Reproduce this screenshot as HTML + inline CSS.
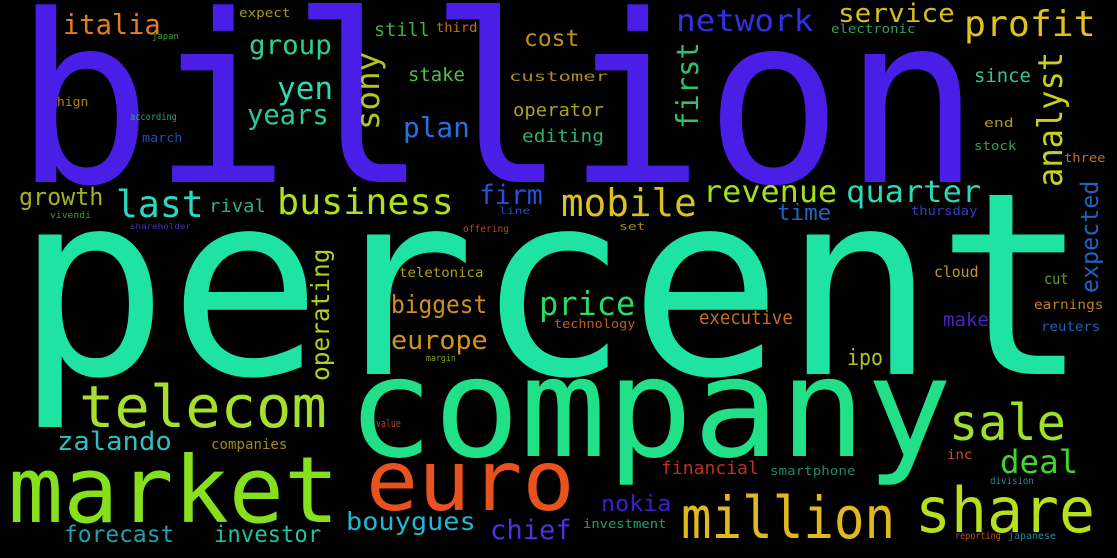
<!DOCTYPE html>
<html><head><meta charset="utf-8">
<style>
html,body{margin:0;padding:0;background:#000;}
#cloud{position:relative;width:1117px;height:558px;overflow:hidden;background:#000;}
#cloud span{position:absolute;white-space:nowrap;line-height:1;font-family:"DejaVu Sans Mono","Liberation Mono",monospace;}
</style></head>
<body>
<div id="cloud"></div>
<script>
// horizontal words: text, glyph left x, glyph right x, baseline y, font size, colour
const words = [
["billion",25,969,183,234,"#4a1ee6"],
["percent",28,1077,375,255,"#1ee3a3"],
["company",354,945,457,138,"#22e088"],
["market",13,335,523,92,"#86e01e"],
["euro",370,570,510,84,"#e8521e"],
["telecom",82,324,427,58,"#a6e02c"],
["million",684,893,538,58,"#e2b81e"],
["share",918,1092,532,62,"#b6e01e"],
["sale",951,1063,440,50,"#9ee02a"],
["mobile",563,695,216,38,"#d8c41e"],
["business",279,452,215,36,"#aee01e"],
["last",118,202,217,37,"#2ed8c0"],
["profit",966,1094,37,36,"#e0c21e"],
["network",678,812,32,30,"#3230e0"],
["italia",64,159,35,28,"#e0801e"],
["service",839,953,23,26,"#d4c01e"],
["group",250,330,55,27,"#2ed08e"],
["yen",279,332,100,31,"#2ed8b2"],
["years",248,327,125,28,"#2ec8a0"],
["revenue",705,836,203,30,"#a4e01e"],
["quarter",848,980,203,30,"#2ed8b4"],
["price",541,634,315,33,"#2ed866"],
["biggest",392,486,313,25,"#d0901e"],
["europe",392,486,350,26,"#d0941e"],
["firm",480,541,205,27,"#2452e0"],
["deal",1002,1077,473,32,"#42d430"],
["zalando",58,170,451,26,"#2cc0c0"],
["growth",20,102,205,24,"#a4b01e"],
["plan",404,468,138,28,"#2472e0"],
["stake",409,464,82,19,"#50c040"],
["still",375,429,37,19,"#40b040"],
["cost",525,578,47,23,"#c0901e"],
["operator",514,603,117,18,"#a8a41e"],
["editing",523,603,143,18,"#2eb070"],
["customer",510,607,82,13,"#b08a1e"],
["chief",491,570,540,27,"#5030e0"],
["bouygues",347,474,530,25,"#20b8d0"],
["investor",215,320,543,23,"#22c0a2"],
["forecast",65,173,543,23,"#20a0b0"],
["nokia",602,670,513,22,"#3a20d0"],
["ipo",848,882,367,22,"#b0c41e"],
["executive",700,792,325,19,"#c0701e"],
["make",944,988,327,19,"#4a22c4"],
["financial",662,758,475,18,"#c0301e"],
["rival",210,265,213,18,"#2eb080"],
["time",778,830,222,22,"#2062c0"],
["since",975,1030,83,19,"#2ec890"],
["technology",555,635,328,12,"#c05a1e"],
["teletonica",400,483,278,13,"#b0a01e"],
["companies",212,287,450,14,"#a08a1e"],
["smartphone",771,855,475,12,"#208a60"],
["investment",584,666,528,12,"#20a070"],
["cloud",935,978,278,15,"#c09a1e"],
["cut",1045,1068,285,15,"#60a020"],
["earnings",1035,1103,310,13,"#c0801e"],
["reuters",1042,1100,332,13,"#2060b0"],
["electronic",832,915,33,12,"#30a060"],
["third",437,477,33,13,"#c0701e"],
["expect",240,290,17,12,"#a09a1e"],
["thursday",912,977,215,12,"#3040c0"],
["end",985,1013,127,12,"#a0a020"],
["stock",975,1016,150,12,"#30a060"],
["three",1065,1105,162,12,"#c0701e"],
["offering",463,508,233,10,"#c04020"],
["line",500,530,215,10,"#2050c0"],
["set",620,645,230,11,"#a08a1e"],
["hign",58,88,106,12,"#b0801e"],
["march",143,182,142,12,"#2050b0"],
["according",130,176,121,10,"#30a070"],
["japan",152,178,41,9,"#40a040"],
["vivendi",50,90,220,9,"#40a020"],
["shareholder",130,190,230,8,"#5030c0"],
["division",990,1033,485,10,"#2090a0"],
["inc",948,972,460,13,"#c0501e"],
["reporting",955,1000,540,10,"#c0501e"],
["japanese",1008,1055,540,10,"#2090a0"],
["value",376,400,427,11,"#c0401e"],
["margin",426,455,363,9,"#80a020"]
];
// vertical words (read bottom-to-top): text, glyph left x, top y, bottom y, font size, colour
const vwords = [
["analyst",1037,53,185,34,"#c8d01e"],
["first",677,44,128,30,"#2ec070"],
["operating",310,250,380,25,"#b0d01e"],
["expected",1080,182,292,24,"#2062c4"],
["sony",355,53,128,32,"#b8c41e"]
];
const cloud = document.getElementById('cloud');
words.forEach(w => {
  const el = document.createElement('span');
  
  
  el.textContent = w[0];
  const s = w[4];
  el.style.fontSize = s + 'px';
  el.style.color = w[5];
  cloud.appendChild(el);
  const mw = el.getBoundingClientRect().width - 0.1 * s;
  const k = (w[2] - w[1]) / mw;
  el.style.transformOrigin = 'left top';
  el.style.transform = 'scaleX(' + k + ')';
  el.style.left = (w[1] - 0.05 * s * k) + 'px';
  el.style.top = (w[3] - 0.846 * s) + 'px';
});
vwords.forEach(w => {
  const el = document.createElement('span');
  
  
  el.textContent = w[0];
  const s = w[4];
  el.style.fontSize = s + 'px';
  el.style.color = w[5];
  cloud.appendChild(el);
  const mw = el.getBoundingClientRect().width - 0.1 * s;
  const k = (w[3] - w[2]) / mw;
  el.style.transformOrigin = 'left top';
  el.style.transform = 'rotate(-90deg) scaleX(' + k + ')';
  el.style.left = (w[1] - 0.1 * s) + 'px';
  el.style.top = (w[3] + 0.05 * s * k) + 'px';
});
</script>
</body></html>
